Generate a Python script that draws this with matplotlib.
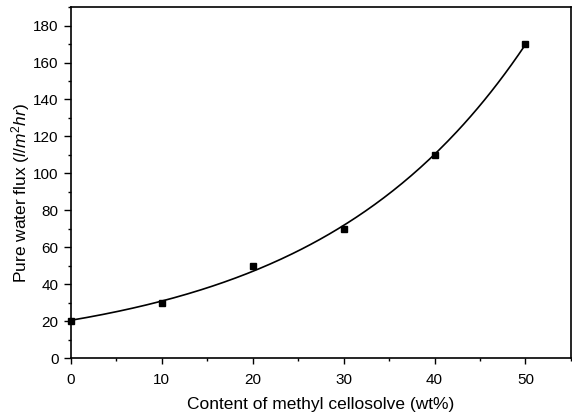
import numpy as np
import matplotlib
matplotlib.use('Agg')
import matplotlib.pyplot as plt
from matplotlib.ticker import MultipleLocator

plt.rcParams['font.family'] = ['Liberation Sans', 'DejaVu Sans']
plt.rcParams['mathtext.fontset'] = 'custom'
plt.rcParams['mathtext.rm'] = 'Liberation Sans'
plt.rcParams['mathtext.it'] = 'Liberation Sans:italic'

# methyl cellosolve content (wt%) and pure water flux
conc = [0, 10, 20, 30, 40, 50]
flux = [20, 30, 50, 70, 110, 170]

# exponential growth fit y = y0 + A*exp(b*x), b picked by least squares
x = np.array(conc, float)
y = np.array(flux, float)
best = None
for b in np.linspace(0.005, 0.1, 400):
    M = np.column_stack([np.ones_like(x), np.exp(b * x)])
    c, *_ = np.linalg.lstsq(M, y, rcond=None)
    err = np.sum((M @ c - y) ** 2)
    if best is None or err < best[0]:
        best = (err, b, c)
_, b, c = best
xs = np.linspace(0, 50, 200)
ys = c[0] + c[1] * np.exp(b * xs)

fig = plt.figure(figsize=(5.72, 4.18), dpi=100)
ax = fig.add_axes([0.124, 0.1435, 0.874, 0.8395])

ax.plot(xs, ys, color='black', lw=1.2)
ax.plot(conc, flux, 's', color='black', ms=5, clip_on=False, zorder=3)

ax.set_xlim(0, 55)
ax.set_ylim(0, 190)
ax.xaxis.set_major_locator(MultipleLocator(10))
ax.xaxis.set_minor_locator(MultipleLocator(5))
ax.yaxis.set_major_locator(MultipleLocator(20))
ax.yaxis.set_minor_locator(MultipleLocator(10))
ax.tick_params(which='major', direction='out', width=1, labelsize=11)
ax.tick_params(axis='x', which='major', length=4, pad=7)
ax.tick_params(axis='y', which='major', length=5, pad=4)
ax.tick_params(which='minor', direction='out', length=2.5, width=1)
for s in ax.spines.values():
    s.set_linewidth(1.2)

ax.set_xlabel('Content of methyl cellosolve (wt%)', fontsize=12.5, labelpad=7)
ax.set_ylabel(r'Pure water flux ($l/m^2hr$)', fontsize=12.5)
ax.yaxis.set_label_coords(-0.078, 0.47)

fig.savefig('out.png', dpi=100)
